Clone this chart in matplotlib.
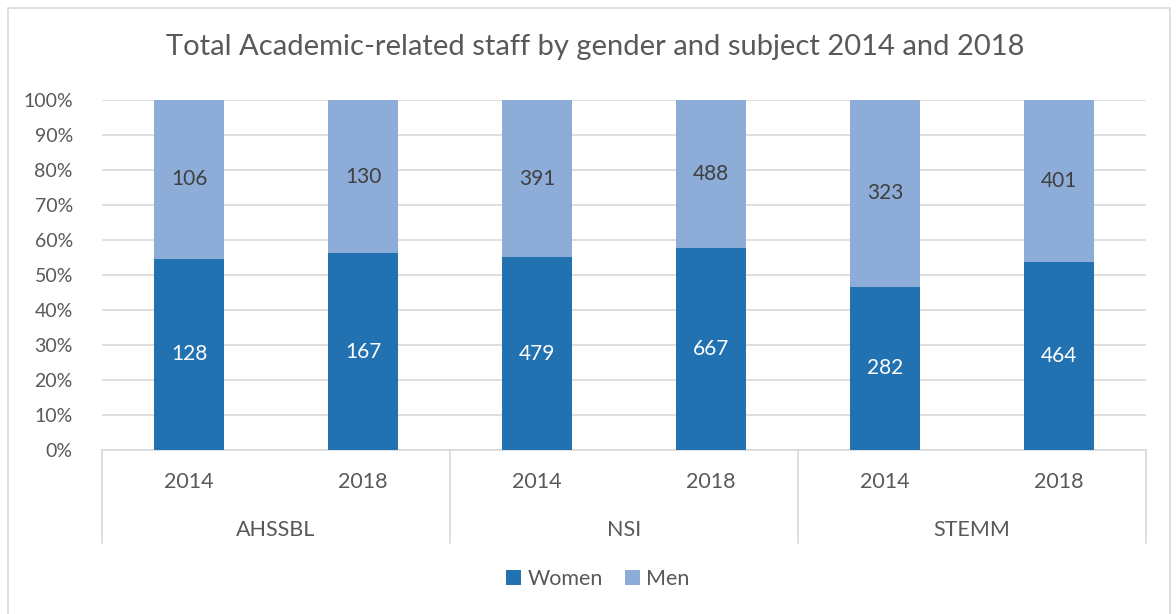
import numpy as np
import matplotlib.pyplot as plt
from matplotlib.patches import Rectangle

plt.rcParams['font.family'] = ['Lato', 'DejaVu Sans']

# data
groups = ["AHSSBL", "NSI", "STEMM"]
years = ["2014", "2018"]
women = [128, 167, 479, 667, 282, 464]
men = [106, 130, 391, 488, 323, 401]

women_col = '#2271B1'
men_col = '#8DACD8'
grey_txt = '#595959'
grid_col = '#D9D9D9'

women = np.array(women, dtype=float)
men = np.array(men, dtype=float)
total = women + men
w_pct = women / total * 100
m_pct = men / total * 100

fig = plt.figure(figsize=(11.76, 6.14), dpi=100)
ax = fig.add_axes([102 / 1176, 1 - 450 / 614, 1044 / 1176, 350 / 614])

# outer chart frame
fig.patches.append(Rectangle((8 / 1176, -0.05), 1162 / 1176, 1 - 8 / 614 + 0.05,
                             transform=fig.transFigure, fill=False,
                             edgecolor=grid_col, lw=1.2))

x = np.arange(len(women))
bw = 0.40
ax.bar(x, w_pct, bw, color=women_col, label='Women', zorder=3)
ax.bar(x, m_pct, bw, bottom=w_pct, color=men_col, label='Men', zorder=3)

for i in range(len(x)):
    ax.text(x[i], w_pct[i] / 2, str(int(women[i])), ha='center', va='center',
            color='white', fontsize=15, zorder=4)
    ax.text(x[i], w_pct[i] + m_pct[i] / 2, str(int(men[i])), ha='center', va='center',
            color='#404040', fontsize=15, zorder=4)

ax.set_xlim(-0.5, len(x) - 0.5)
ax.set_ylim(0, 100)
ax.set_yticks(np.arange(0, 101, 10))
ax.set_yticklabels([f"{v}%" for v in range(0, 101, 10)], color=grey_txt, fontsize=14)
ax.tick_params(axis='y', length=0, pad=21)
ax.set_xticks([])
ax.grid(axis='y', color=grid_col, lw=1.2, zorder=0)
for s in ['top', 'right', 'left']:
    ax.spines[s].set_visible(False)
ax.spines['bottom'].set_color(grid_col)
ax.spines['bottom'].set_linewidth(1.2)

# two-level category axis
trans = ax.get_xaxis_transform()
for i in range(len(x)):
    ax.text(x[i], -0.091, years[i % 2], transform=trans, ha='center', va='center',
            color=grey_txt, fontsize=15.5)
for g in range(len(groups)):
    ax.text(2 * g + 0.5, -0.229, groups[g], transform=trans, ha='center', va='center',
            color=grey_txt, fontsize=15.5)
for b in [-0.5, 1.5, 3.5, 5.5]:
    ax.plot([b, b], [0, -0.266], transform=trans, color=grid_col, lw=1.2, clip_on=False)

fig.text(595 / 1176, 1 - 47 / 614, "Total Academic-related staff by gender and subject 2014 and 2018",
         ha='center', va='center', color=grey_txt, fontsize=21)

fig.legend(loc='center', bbox_to_anchor=(598 / 1176, 1 - 579 / 614), ncol=2, frameon=False,
           fontsize=15.5, handlelength=0.7, handleheight=0.7, handletextpad=0.3,
           columnspacing=1.0, labelcolor=grey_txt)

fig.savefig('out.png', dpi=100)
